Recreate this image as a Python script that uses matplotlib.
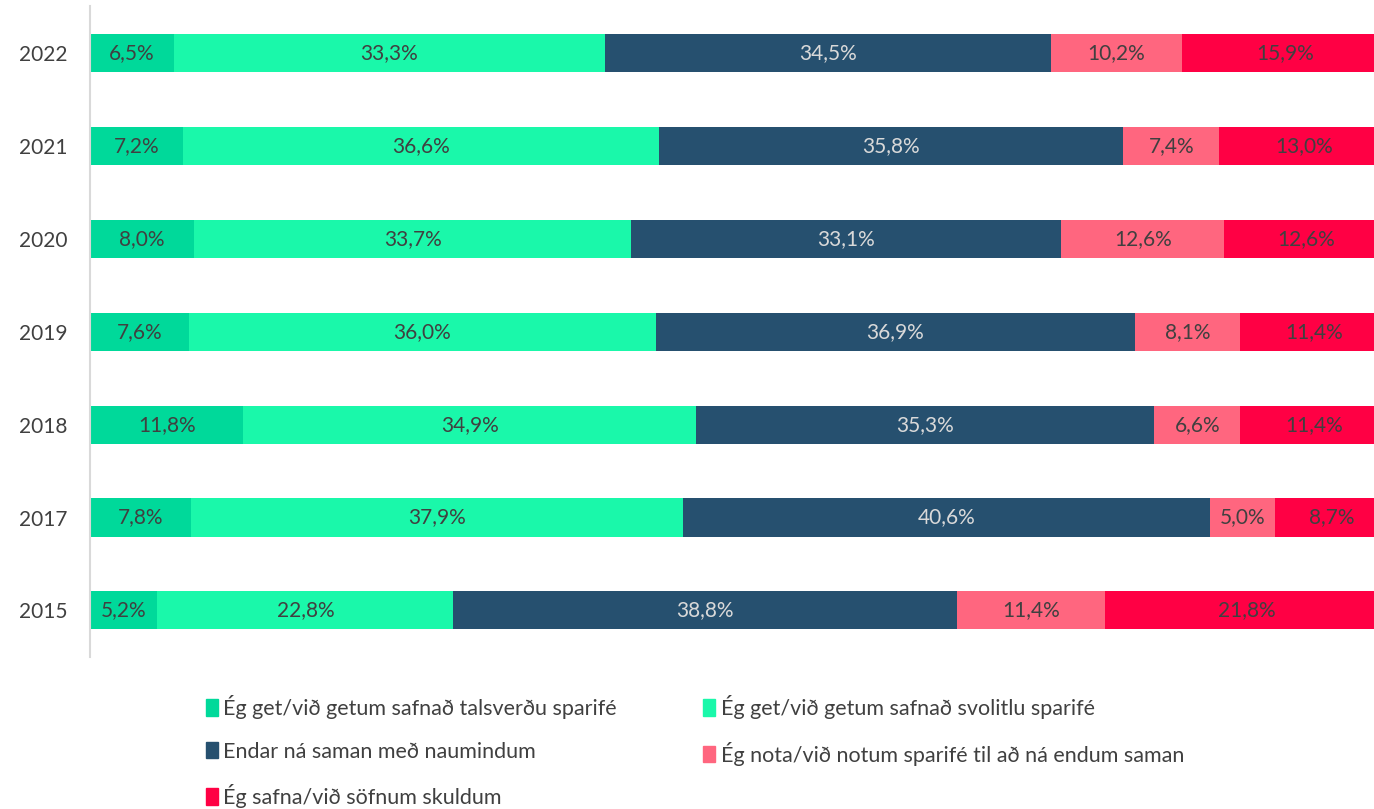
import matplotlib.pyplot as plt
from matplotlib.patches import Patch

plt.rcParams['font.family'] = ['Lato', 'DejaVu Sans']

years = ["2015", "2017", "2018", "2019", "2020", "2021", "2022"]
talsvert = [5.2, 7.8, 11.8, 7.6, 8.0, 7.2, 6.5]
svolitid = [22.8, 37.9, 34.9, 36.0, 33.7, 36.6, 33.3]
naumindum = [38.8, 40.6, 35.3, 36.9, 33.1, 35.8, 34.5]
sparife = [11.4, 5.0, 6.6, 8.1, 12.6, 7.4, 10.2]
skuldir = [21.8, 8.7, 11.4, 11.4, 12.6, 13.0, 15.9]

series = [
    ("Ég get/við getum safnað talsverðu sparifé", talsvert, "#00D99A", "#404040"),
    ("Ég get/við getum safnað svolitlu sparifé", svolitid, "#1AF8AA", "#404040"),
    ("Endar ná saman með naumindum", naumindum, "#26506F", "#D9D9D9"),
    ("Ég nota/við notum sparifé til að ná endum saman", sparife, "#FF667F", "#404040"),
    ("Ég safna/við söfnum skuldum", skuldir, "#FF0044", "#404040"),
]

fig = plt.figure(figsize=(13.74, 8.09), dpi=100)
# plot area runs a little past the right edge of the picture, as in the original
ax = fig.add_axes([0.0655, 0.188, 0.9447, 0.804])

totals = [sum(s[1][i] for s in series) for i in range(len(years))]
left = [0.0] * len(years)
handles = []
for name, vals, color, tcolor in series:
    widths = [v / t * 100 for v, t in zip(vals, totals)]
    bars = ax.barh(range(len(years)), widths, left=left, height=0.41, color=color)
    for i, b in enumerate(bars):
        ax.text(left[i] + widths[i] / 2, i, f"{vals[i]:.1f}%".replace(".", ","),
                ha="center", va="center", color=tcolor, fontsize=15)
    left = [l + w for l, w in zip(left, widths)]
    handles.append(Patch(color=color, label=name))

ax.set_xlim(0, 100)
ax.set_ylim(-0.5, len(years) - 0.5)
ax.set_yticks(range(len(years)))
ax.set_yticklabels(years, fontsize=15, color="#404040")
ax.set_xticks([])
ax.tick_params(axis="y", length=0, pad=16)
for side in ["top", "right", "bottom"]:
    ax.spines[side].set_visible(False)
ax.spines["left"].set_color("#D9D9D9")
ax.spines["left"].set_linewidth(1.5)

leg_kw = dict(frameon=False, fontsize=15.5, handlelength=0.55, handleheight=0.8,
              handletextpad=0.25, labelspacing=1.05, borderpad=0, borderaxespad=0,
              labelcolor="#404040")
leg1 = fig.legend(handles=[handles[0], handles[2], handles[4]], loc="upper left",
                  bbox_to_anchor=(0.150, 0.141), **leg_kw)
leg2 = fig.legend(handles=[handles[1], handles[3]], loc="upper left",
                  bbox_to_anchor=(0.512, 0.141), **leg_kw)

fig.savefig("out.png", dpi=100)
